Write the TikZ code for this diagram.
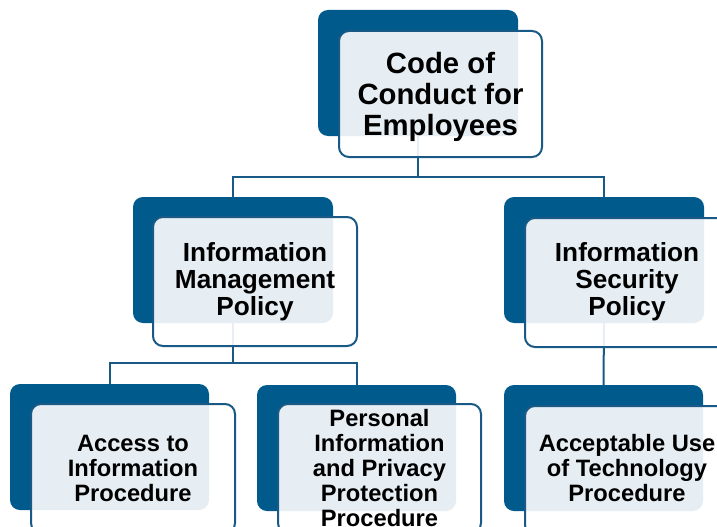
\documentclass[tikz,border=0pt]{standalone}
\usepackage{fontspec}
\setmainfont{Liberation Sans}
\usetikzlibrary{backgrounds}
\definecolor{darkblue}{HTML}{005A8C}
\definecolor{linkblue}{HTML}{185A85}
\tikzset{
  backbox/.style={fill=darkblue, draw=none, rounded corners=10pt, minimum width=200pt, minimum height=126pt, inner sep=0pt, outer sep=0pt, anchor=north west},
  frontbox/.style={fill=white, fill opacity=0.9, draw=linkblue, line width=2pt, rounded corners=10pt, minimum width=204pt, minimum height=127pt, inner sep=0pt, outer sep=0pt, anchor=north west},
  txtA/.style={align=center, font=\fontsize{29.3}{31}\selectfont\bfseries, text=black, inner sep=0pt},
  txtB/.style={align=center, font=\fontsize{26.2}{27}\selectfont\bfseries, text=black, inner sep=0pt},
  txtC/.style={align=center, font=\fontsize{23.7}{25}\selectfont\bfseries, text=black, inner sep=0pt},
  conn/.style={draw=linkblue, line width=2pt},
}
\begin{document}
\begin{tikzpicture}[x=1pt,y=-1pt]
\useasboundingbox (0,0) rectangle (717,527);
\clip (0,0) rectangle (717,527);
% top
\node[backbox] (b1) at (318,10) {};
\node[frontbox, minimum width=203pt, minimum height=126pt] (f1) at (339,31) {};
\node[txtA] (t1) at ([yshift=-2.5pt]f1.center) {Code of\\Conduct for\\Employees};
% middle
\node[backbox] (b2) at (133,197) {};
\node[frontbox, minimum height=129pt] (f2) at (153,217) {};
\node[txtB] (t2) at (f2.center) {Information\\Management\\Policy};
\node[backbox] (b3) at (504,197) {};
\node[frontbox, minimum height=129pt] (f3) at (525,218) {};
\node[txtB] (t3) at ([yshift=0.5pt]f3.center) {Information\\Security\\Policy};
% bottom
\node[backbox, minimum width=199pt] (b4) at (10,384) {};
\node[frontbox, minimum height=129pt] (f4) at (31,404) {};
\node[txtC] (t4) at ([yshift=0.5pt]f4.center) {Access to\\Information\\Procedure};
\node[backbox, minimum width=199pt] (b5) at (257,385) {};
\node[frontbox, minimum height=129pt, minimum width=203pt] (f5) at (278,404) {};
\node[txtC] (t5) at (f5.center) {Personal\\Information\\and Privacy\\Protection\\Procedure};
\node[backbox, minimum width=199pt] (b6) at (504,385) {};
\node[frontbox, minimum height=129pt] (f6) at (525,406) {};
\node[txtC] (t6) at ([yshift=2.5pt]f6.center) {Acceptable Use\\of Technology\\Procedure};
% connectors
\coordinate (j1) at (b1.south |- 0,177);
\coordinate (j2) at (b2.south |- 0,363);
\begin{pgfonlayer}{background}
\draw[conn] (b1.south) -- (j1) -| (b2.north);
\draw[conn] (j1) -| (b3.north);
\draw[conn] (b2.south) -- (j2) -| (b4.north);
\draw[conn] (j2) -| (b5.north);
\draw[conn] (b3.south) -- (b6.north);
\end{pgfonlayer}
\end{tikzpicture}
\end{document}
